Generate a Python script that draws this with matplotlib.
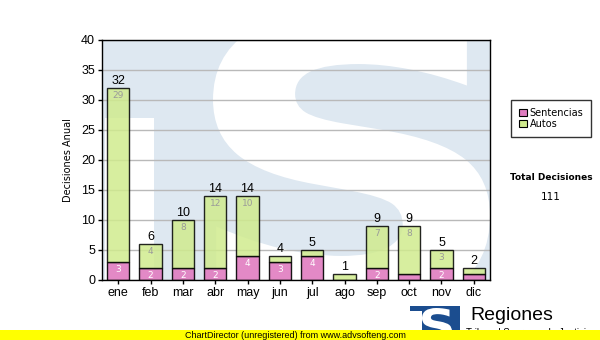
import matplotlib
matplotlib.use("Agg")
import matplotlib.pyplot as plt
import numpy as np
from matplotlib.patches import Rectangle, PathPatch, Patch
from matplotlib.textpath import TextPath
from matplotlib.font_manager import FontProperties
from matplotlib.transforms import Affine2D

meses = ["ene", "feb", "mar", "abr", "may", "jun", "jul", "ago", "sep", "oct", "nov", "dic"]
sentencias = [3, 2, 2, 2, 4, 3, 4, 0, 2, 1, 2, 1]
autos = [29, 4, 8, 12, 10, 1, 1, 1, 7, 8, 3, 1]
yticks = [0, 5, 10, 15, 20, 25, 30, 35, 40]

W, H = 600, 340
fig = plt.figure(figsize=(W / 100, H / 100), dpi=100)
fig.patch.set_facecolor("white")

# axes box in pixels: x 102..490, y 40..280
ax = fig.add_axes([102 / W, 1 - 280 / H, 388 / W, 240 / H])
ax.set_xlim(-0.5, 11.5)
ax.set_ylim(0, 40)
ax.set_facecolor("#dee8f1")


def px2data(xp, yp):
    return (xp - 102) / (388 / 12) - 0.5, (280 - yp) / 6.0


# washed-out logo behind the plot: white bar + big white S
x0, y0 = px2data(105, 118)
x1, _ = px2data(154, 118)
ax.add_patch(Rectangle((x0, -1), x1 - x0, y0 + 1, facecolor="white",
                       edgecolor="none", zorder=0))

sp = TextPath((0, 0), "S", size=1, prop=FontProperties(family="DejaVu Sans", weight="bold"))
ext = sp.get_extents()
sx0, sy1 = px2data(213, 10)
sx1, sy0 = px2data(490, 310)
tr = (Affine2D().translate(-ext.x0, -ext.y0)
      .scale((sx1 - sx0) / ext.width, (sy1 - sy0) / ext.height)
      .translate(sx0, sy0))
ax.add_patch(PathPatch(tr.transform_path(sp), facecolor="white", edgecolor="none", zorder=0))

ax.set_yticks(yticks)
ax.yaxis.grid(True, color="#b9b9b9", linewidth=1, zorder=1)
ax.set_axisbelow(True)

x = np.arange(len(meses))
total = np.array(sentencias) + np.array(autos)
ax.bar(x, sentencias, width=0.7, color="#e07cc0", alpha=0.9, edgecolor="black",
       linewidth=1, zorder=3, label="Sentencias")
ax.bar(x, autos, width=0.7, bottom=sentencias, color="#d0eb8e", alpha=0.85,
       edgecolor="black", linewidth=1, zorder=3, label="Autos")

for i in range(len(meses)):
    ax.annotate(str(total[i]), (x[i], total[i]), xytext=(0, 1), textcoords="offset points",
                ha="center", va="bottom", fontsize=9, family="Liberation Sans", zorder=5)
    if sentencias[i] >= 2:
        ax.annotate(str(sentencias[i]), (x[i], sentencias[i]), xytext=(0, -2),
                    textcoords="offset points", ha="center", va="top", fontsize=6.5,
                    color="white", family="DejaVu Sans", zorder=5)
    if autos[i] >= 3:
        ax.annotate(str(autos[i]), (x[i], total[i]), xytext=(0, -2),
                    textcoords="offset points", ha="center", va="top", fontsize=6.5,
                    color="#9a9a9a", family="DejaVu Sans", zorder=5)

ax.set_xticks(x)
ax.set_xticklabels(meses, family="Liberation Sans", fontsize=9)
for lab in ax.get_yticklabels():
    lab.set_family("Liberation Sans")
    lab.set_fontsize(9)
ax.tick_params(axis="both", direction="out", length=3, width=1, color="black", pad=2)
for s in ax.spines.values():
    s.set_color("black")
    s.set_linewidth(1)
    s.set_zorder(6)
ax.set_ylabel("Decisiones Anual", family="DejaVu Sans", fontsize=7, labelpad=6)

handles = [Patch(facecolor="#e07cc0", edgecolor="black", linewidth=0.8, label="Sentencias"),
           Patch(facecolor="#d0eb8e", edgecolor="black", linewidth=0.8, label="Autos")]
leg = fig.legend(handles=handles, loc="upper left", bbox_to_anchor=(511 / W, 1 - 100 / H),
                 prop={"family": "DejaVu Sans", "size": 7}, frameon=True, fancybox=False,
                 handlelength=0.8, handleheight=0.8, handletextpad=0.3, labelspacing=0.1,
                 borderpad=0.8, borderaxespad=0)
leg.get_frame().set_edgecolor("black")
leg.get_frame().set_linewidth(1)

fig.text(551 / W, 1 - 178 / H, "Total Decisiones", ha="center", va="center",
         fontsize=6.5, weight="bold", family="DejaVu Sans")
fig.text(551 / W, 1 - 197 / H, str(int(total.sum())), ha="center", va="center",
         fontsize=7.5, family="DejaVu Sans")

# bottom logo
lax = fig.add_axes([0, 0, 1, 1], facecolor="none")
lax.set_xlim(0, W)
lax.set_ylim(H, 0)
lax.axis("off")
lax.add_patch(Rectangle((410, 306), 50, 30, facecolor="#1b4d8f", edgecolor="none"))
lp = TextPath((0, 0), "S", size=1, prop=FontProperties(family="DejaVu Sans", weight="bold"))
le = lp.get_extents()
ltr = (Affine2D().translate(-le.x0, -le.y0).scale(30 / le.width, -34 / le.height)
       .translate(422, 342))
lax.add_patch(PathPatch(ltr.transform_path(lp), facecolor="white", edgecolor="none"))
lax.add_patch(Rectangle((410, 311), 12, 30, facecolor="white", edgecolor="none"))
lax.text(470, 316, "Regiones", fontsize=14, family="Liberation Sans", va="center", ha="left")
lax.text(466, 333, "Tribunal Supremo de Justicia", fontsize=7, family="Liberation Sans",
         va="center", ha="left")

# unregistered banner
lax.add_patch(Rectangle((0, 330), W, 10, facecolor="#ffff00", edgecolor="none", zorder=5))
lax.text(295, 335.5, "ChartDirector (unregistered) from www.advsofteng.com", fontsize=6.5,
         family="Liberation Sans", ha="center", va="center", zorder=6)

fig.savefig("out.png", dpi=100)
